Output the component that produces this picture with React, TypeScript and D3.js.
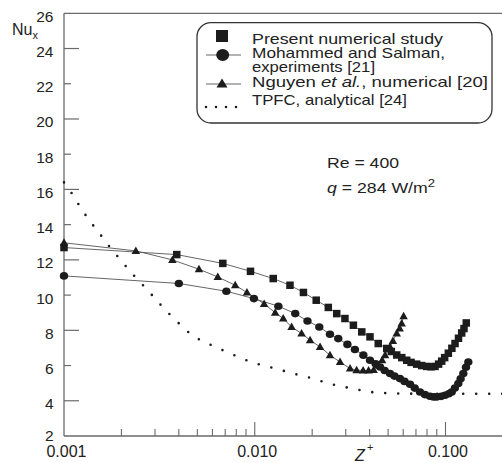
import React from "react";
import * as d3 from "d3";

// ---------- data ----------
const presentX = [0.001, 0.0039, 0.0068, 0.0095, 0.0125, 0.0153, 0.018, 0.021, 0.0243, 0.0269, 0.0297, 0.0329, 0.0364, 0.0402, 0.0444, 0.0492, 0.052, 0.0555, 0.059, 0.0626, 0.066, 0.0706, 0.075, 0.0797, 0.084, 0.0881, 0.092, 0.0955, 0.099, 0.1035, 0.108, 0.1122, 0.117, 0.1216, 0.125, 0.1285];
const presentY = [12.7, 12.3, 11.8, 11.35, 10.94, 10.56, 10.15, 9.71, 9.3, 8.95, 8.67, 8.29, 7.91, 7.63, 7.25, 6.97, 6.8, 6.6, 6.45, 6.3, 6.18, 6.08, 6.0, 5.95, 5.93, 5.95, 6.08, 6.25, 6.45, 6.7, 6.98, 7.25, 7.55, 7.85, 8.1, 8.42];

const mohX = [0.001, 0.004, 0.0071, 0.0099, 0.0133, 0.0163, 0.0189, 0.0218, 0.0248, 0.0274, 0.0306, 0.0335, 0.0371, 0.0402, 0.043, 0.0454, 0.048, 0.0512, 0.054, 0.0577, 0.061, 0.0652, 0.069, 0.0735, 0.078, 0.0829, 0.0865, 0.0899, 0.095, 0.0994, 0.104, 0.1078, 0.112, 0.1167, 0.12, 0.124, 0.128, 0.1317];
const mohY = [11.09, 10.66, 10.22, 9.8, 9.37, 8.95, 8.53, 8.19, 7.78, 7.53, 7.2, 6.91, 6.59, 6.3, 6.1, 5.92, 5.72, 5.55, 5.4, 5.26, 5.1, 4.94, 4.72, 4.5, 4.35, 4.26, 4.22, 4.22, 4.25, 4.31, 4.4, 4.5, 4.72, 4.98, 5.25, 5.55, 5.9, 6.2];

const nguX = [0.001, 0.00238, 0.0037, 0.0051, 0.0064, 0.0079, 0.0091, 0.0112, 0.0128, 0.0141, 0.0156, 0.0176, 0.0195, 0.022, 0.0248, 0.028, 0.0316, 0.0342, 0.037, 0.0395, 0.042, 0.0444, 0.0465, 0.0482, 0.0512, 0.053, 0.0555, 0.0575, 0.0589, 0.0603];
const nguY = [12.97, 12.51, 12.0, 11.47, 11.03, 10.56, 10.15, 9.5, 9.0, 8.67, 8.19, 7.82, 7.44, 7.06, 6.59, 6.2, 5.83, 5.74, 5.72, 5.72, 5.75, 6.02, 6.3, 6.59, 7.06, 7.4, 7.82, 8.1, 8.39, 8.8];

const tpfcX = [0.001, 0.0011, 0.0012, 0.00131, 0.00144, 0.0016, 0.00176, 0.00195, 0.00216, 0.0024, 0.00269, 0.003, 0.00334, 0.00374, 0.00419, 0.00472, 0.00544, 0.00632, 0.0073, 0.00844, 0.0098, 0.01153, 0.01347, 0.01578, 0.0183, 0.0216, 0.0253, 0.0297, 0.0344, 0.0402, 0.047, 0.0555, 0.08, 0.12, 0.2];
const tpfcY = [16.4, 15.77, 15.1, 14.48, 13.88, 13.25, 12.65, 12.08, 11.51, 10.94, 10.38, 9.81, 9.24, 8.7, 8.19, 7.68, 7.34, 7.02, 6.72, 6.43, 6.15, 5.96, 5.77, 5.55, 5.39, 5.16, 4.94, 4.78, 4.64, 4.5, 4.44, 4.41, 4.4, 4.4, 4.4];

const yTicks = [2, 4, 6, 8, 10, 12, 14, 16, 18, 20, 22, 24, 26];
const yLongTicks = [4, 8, 12, 16, 20, 24];
const xMajorTicks = [0.001, 0.01, 0.1];
const xMajorLabels = ["0.001", "0.010", "0.100"];
const xMinorTicks = [0.002, 0.003, 0.004, 0.005, 0.006, 0.007, 0.008, 0.009, 0.02, 0.03, 0.04, 0.05, 0.06, 0.07, 0.08, 0.09];

const legendLabels = ["Present numerical study", "Mohammed and Salman,", "experiments [21]", "Nguyen", "TPFC, analytical [24]"];

// ---------- layout ----------
const W = 502, H = 463;
const X0 = 64, YTOP = 13.3, YBOT = 436, XR = 502;
const FONT = "'Liberation Sans', Arial, Helvetica, sans-serif";
const AX = "#6a6a6a";
const MK = "#1c1c1c";
const LN = "#555";

const x = d3.scaleLog().domain([0.001, 0.1]).range([X0, 445.5]);
const y = d3.scaleLinear().domain([2, 26]).range([YBOT, YTOP]);

const zip = (xs: number[], ys: number[]) => xs.map((v, i) => [v, ys[i]] as [number, number]);
const line = d3.line<[number, number]>().x(d => x(d[0])).y(d => y(d[1]));

const Square = ({ cx, cy, s }: { cx: number; cy: number; s: number }) => (
  <rect x={cx - s / 2} y={cy - s / 2} width={s} height={s} fill={MK} />
);
const Circle = ({ cx, cy, rx, ry }: { cx: number; cy: number; rx: number; ry: number }) => (
  <ellipse cx={cx} cy={cy} rx={rx} ry={ry} fill={MK} />
);
const Tri = ({ cx, cy, w, h }: { cx: number; cy: number; w: number; h: number }) => (
  <path d={`M${cx},${cy - h * 0.6}L${cx + w / 2},${cy + h * 0.4}L${cx - w / 2},${cy + h * 0.4}Z`} fill={MK} />
);

export default function App() {
  const present = zip(presentX, presentY);
  const moh = zip(mohX, mohY);
  const ngu = zip(nguX, nguY);
  const tpfc = zip(tpfcX, tpfcY);
  return (
    <svg width={W} height={H} style={{ position: "absolute", left: 0, top: 0, background: "#fff" }} fontFamily={FONT}>
      {/* axes frame */}
      <line x1={X0} x2={XR} y1={YTOP} y2={YTOP} stroke={AX} strokeWidth={1.3} />
      <line x1={X0} x2={X0} y1={YTOP} y2={YBOT} stroke={AX} strokeWidth={1.3} />
      <line x1={X0} x2={XR} y1={YBOT} y2={YBOT} stroke={AX} strokeWidth={1.3} />

      {/* y ticks */}
      {yTicks.map(t => (
        <g key={"y" + t}>
          {t > 2 && t < 26 && (
            <line x1={X0} x2={X0 + (yLongTicks.includes(t) ? 15 : 7)} y1={y(t)} y2={y(t)} stroke={AX} strokeWidth={1.2} />
          )}
          <text x={53.5} y={y(t) + (t === 2 ? 5 : 8.5)} textAnchor="end" fontSize={15.5} fill="#222">{t}</text>
        </g>
      ))}

      {/* x ticks */}
      {xMinorTicks.map(t => (
        <line key={"xm" + t} x1={x(t)} x2={x(t)} y1={YBOT} y2={YBOT - 7} stroke={AX} strokeWidth={1.1} />
      ))}
      {xMajorTicks.map((t, i) => (
        <g key={"xM" + t}>
          {i > 0 && <line x1={x(t)} x2={x(t)} y1={YBOT} y2={YBOT - 14} stroke={AX} strokeWidth={1.1} />}
          <text x={x(t) + 2.5} y={456.5} textAnchor="middle" fontSize={16} fill="#222">{xMajorLabels[i]}</text>
        </g>
      ))}

      {/* axis titles */}
      <text x={12} y={35} fontSize={16} fill="#222">Nu<tspan fontSize={11} dy={3.5}>x</tspan></text>
      <text x={355} y={461} fontSize={16} fontStyle="italic" fill="#222">Z</text>
      <text x={367} y={451} fontSize={11} fill="#222">+</text>

      {/* TPFC dotted */}
      <path d={line(tpfc) || ""} fill="none" stroke={MK} strokeWidth={2.6} strokeLinecap="round" strokeDasharray="0 13" />

      {/* connecting lines */}
      <path d={line(present) || ""} fill="none" stroke={LN} strokeWidth={0.9} />
      <path d={line(moh) || ""} fill="none" stroke={LN} strokeWidth={0.9} />
      <path d={line(ngu) || ""} fill="none" stroke={LN} strokeWidth={0.9} />

      {/* markers */}
      {ngu.map((d, i) => <Tri key={"n" + i} cx={x(d[0])} cy={y(d[1])} w={8.5} h={7.5} />)}
      {moh.map((d, i) => <Circle key={"m" + i} cx={x(d[0])} cy={y(d[1])} rx={4.2} ry={3.8} />)}
      {present.map((d, i) => <Square key={"p" + i} cx={x(d[0])} cy={y(d[1])} s={7.5} />)}

      {/* legend */}
      <rect x={197} y={22.7} width={295} height={100.3} rx={14} ry={14} fill="#fff" stroke="#333" strokeWidth={1.3} />
      <Square cx={222} cy={36} s={12} />
      <line x1={206} x2={241} y1={55} y2={55} stroke={LN} strokeWidth={0.9} />
      <Circle cx={222.7} cy={55} rx={6.5} ry={6} />
      <line x1={206} x2={241} y1={84} y2={84} stroke={LN} strokeWidth={0.9} />
      <Tri cx={222} cy={84} w={11} h={9} />
      <line x1={206} x2={241} y1={107} y2={107} stroke={MK} strokeWidth={2.6} strokeLinecap="round" strokeDasharray="0 10" />
      <g fontSize={15} fill="#222">
        <text x={252} y={44} textLength={191} lengthAdjust="spacingAndGlyphs">{legendLabels[0]}</text>
        <text x={252} y={58} textLength={193} lengthAdjust="spacingAndGlyphs">{legendLabels[1]}</text>
        <text x={252} y={72} textLength={123} lengthAdjust="spacingAndGlyphs">{legendLabels[2]}</text>
        <text x={252} y={87} textLength={236} lengthAdjust="spacingAndGlyphs">{legendLabels[3]} <tspan fontStyle="italic">et al.</tspan>, numerical [20]</text>
        <text x={252} y={104.5} textLength={155} lengthAdjust="spacingAndGlyphs">{legendLabels[4]}</text>
      </g>

      {/* annotations */}
      <text x={327} y={168} fontSize={15} fill="#222" textLength={72} lengthAdjust="spacingAndGlyphs">Re = 400</text>
      <text x={327} y={193} fontSize={15} fill="#222" textLength={108} lengthAdjust="spacingAndGlyphs"><tspan fontStyle="italic">q</tspan> = 284 W/m<tspan fontSize={11} dy={-6}>2</tspan></text>
    </svg>
  );
}
